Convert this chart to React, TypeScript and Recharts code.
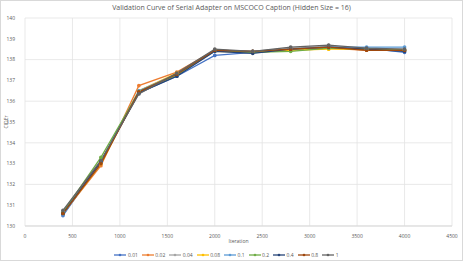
import { LineChart, Line, XAxis, YAxis, CartesianGrid, Legend } from "recharts";

const iterations = [400, 800, 1200, 1600, 2000, 2400, 2800, 3200, 3600, 4000];

const s001 = [130.5, 133.1, 136.4, 137.2, 138.2, 138.35, 138.5, 138.6, 138.55, 138.35];
const s002 = [130.6, 132.9, 136.75, 137.4, 138.45, 138.4, 138.5, 138.55, 138.45, 138.45];
const s004 = [130.7, 133.1, 136.45, 137.3, 138.45, 138.4, 138.55, 138.65, 138.5, 138.5];
const s008 = [130.6, 133.0, 136.5, 137.35, 138.4, 138.35, 138.45, 138.5, 138.5, 138.45];
const s01 = [130.55, 133.1, 136.5, 137.3, 138.4, 138.4, 138.5, 138.6, 138.6, 138.6];
const s02 = [130.65, 133.3, 136.45, 137.25, 138.45, 138.35, 138.4, 138.55, 138.5, 138.45];
const s04 = [130.6, 133.1, 136.4, 137.2, 138.4, 138.3, 138.5, 138.6, 138.5, 138.4];
const s08 = [130.6, 133.0, 136.45, 137.3, 138.45, 138.4, 138.5, 138.6, 138.45, 138.45];
const s1 = [130.75, 133.15, 136.35, 137.35, 138.5, 138.4, 138.6, 138.7, 138.55, 138.5];

const xTicks = [0, 500, 1000, 1500, 2000, 2500, 3000, 3500, 4000, 4500];
const yTicks = [130, 131, 132, 133, 134, 135, 136, 137, 138, 139, 140];

const series = [
  { key: "0.01", values: s001, color: "#4472C4" },
  { key: "0.02", values: s002, color: "#ED7D31" },
  { key: "0.04", values: s004, color: "#A5A5A5" },
  { key: "0.08", values: s008, color: "#FFC000" },
  { key: "0.1", values: s01, color: "#5B9BD5" },
  { key: "0.2", values: s02, color: "#70AD47" },
  { key: "0.4", values: s04, color: "#264478" },
  { key: "0.8", values: s08, color: "#9E480E" },
  { key: "1", values: s1, color: "#636363" },
];

const data = iterations.map((it, i) => {
  const row: any = { iteration: it };
  series.forEach((s) => {
    row[s.key] = s.values[i];
  });
  return row;
});

const font = "'Open Sans', 'Liberation Sans', sans-serif";
const tickStyle = { fontSize: 5, fill: "#595959", fontFamily: font };

// excel-style legend: small line with a dot, grey label
const LegendContent = ({ payload }: any) => (
  <div style={{ display: "flex", justifyContent: "center", gap: 4, marginTop: 6 }}>
    {(payload || []).map((p: any) => (
      <div key={p.value} style={{ display: "flex", alignItems: "center", gap: 1.5 }}>
        <svg width={12} height={4}>
          <line x1={0} y1={2} x2={12} y2={2} stroke={p.color} strokeWidth={1.3} />
          <circle cx={6} cy={2} r={1.3} fill={p.color} />
        </svg>
        <span style={{ fontSize: 5, color: "#595959", lineHeight: "6px" }}>{p.value}</span>
      </div>
    ))}
  </div>
);

const App = () => {
  return (
    <div
      style={{
        position: "absolute",
        left: 0,
        top: 0,
        width: 461,
        height: 259,
        border: "1px solid #D9D9D9",
        background: "#fff",
        fontFamily: font,
      }}
    >
      <div
        style={{
          position: "absolute",
          top: 2,
          width: "100%",
          textAlign: "center",
          fontSize: 7,
          color: "#595959",
        }}
      >
        Validation Curve of Serial Adapter on MSCOCO Caption (Hidden Size = 16)
      </div>
      <LineChart
        width={461}
        height={259}
        data={data}
        margin={{ top: 17, right: 10, left: 0, bottom: 0 }}
      >
        <CartesianGrid stroke="#E3E3E3" strokeWidth={0.8} />
        <XAxis
          dataKey="iteration"
          type="number"
          domain={[0, 4500]}
          ticks={xTicks}
          tick={tickStyle}
          tickLine={false}
          axisLine={{ stroke: "#D9D9D9" }}
          height={20}
          tickMargin={2}
          label={{ value: "Iteration", position: "insideBottom", offset: 3, style: { fontSize: 5, fill: "#595959", fontFamily: font } }}
        />
        <YAxis
          type="number"
          domain={[130, 140]}
          ticks={yTicks}
          tick={tickStyle}
          tickLine={false}
          axisLine={false}
          width={24}
          tickMargin={4}
          label={{ value: "CIDEr", angle: -90, position: "insideLeft", offset: 5, style: { fontSize: 5, fill: "#595959", fontFamily: font, textAnchor: "middle" } }}
        />
        <Legend verticalAlign="bottom" height={14} content={<LegendContent />} />
        {series.map((s) => (
          <Line
            key={s.key}
            dataKey={s.key}
            name={s.key}
            stroke={s.color}
            strokeWidth={1.3}
            dot={{ r: 1.2, fill: s.color, stroke: s.color }}
            isAnimationActive={false}
          />
        ))}
      </LineChart>
    </div>
  );
};

export default App;
